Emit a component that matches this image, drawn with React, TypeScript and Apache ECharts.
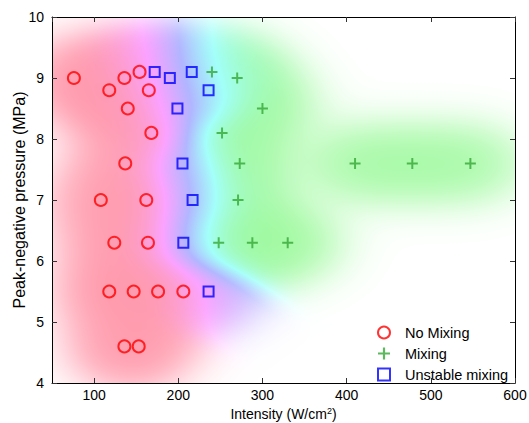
import React, { useEffect, useRef } from 'react';
import * as echarts from 'echarts';

// ---- data (Intensity W/cm², Peak-negative pressure MPa) ----
const noMixing: [number, number][] = [
  [76, 9.0], [118, 8.8], [136, 9.0], [154, 9.1], [165, 8.8], [140, 8.5], [168, 8.1],
  [137, 7.6], [108, 7.0], [162, 7.0], [124, 6.3], [164, 6.3], [118, 5.5], [147, 5.5],
  [176, 5.5], [206, 5.5], [136, 4.6], [153, 4.6],
];
const mixing: [number, number][] = [
  [240, 9.1], [270, 9.0], [300, 8.5], [252, 8.1], [273, 7.6], [410, 7.6], [478, 7.6],
  [547, 7.6], [271, 7.0], [248, 6.3], [288, 6.3], [330, 6.3],
];
const unstable: [number, number][] = [
  [172, 9.1], [190, 9.0], [216, 9.1], [236, 8.8], [199, 8.5], [205, 7.6], [217, 7.0],
  [206, 6.3], [236, 5.5],
];
const seriesNames = ['No Mixing', 'Mixing', 'Unstable mixing'];
const X_MIN = 50;
const X_MAX = 600;
const Y_MIN = 4;
const Y_MAX = 10;

const FONT = 'Liberation Sans, Arial, Helvetica, sans-serif';
const PLUS = 'path://M4.1,0H5.9V4.1H10V5.9H5.9V10H4.1V5.9H0V4.1H4.1Z';

// colour stops along class value: 0 = no mixing, 1 = unstable, 2 = mixing
const STOPS = [
  [255, 0, 45],
  [245, 20, 255],
  [60, 70, 255],
  [20, 255, 240],
  [10, 240, 10],
];

function stopColor(v: number) {
  const t = Math.max(0, Math.min(4, v * 2));
  const i = Math.min(3, Math.floor(t));
  const f = t - i;
  const a = STOPS[i], b = STOPS[i + 1];
  return [a[0] + (b[0] - a[0]) * f, a[1] + (b[1] - a[1]) * f, a[2] + (b[2] - a[2]) * f];
}

function buildField(pts: { x: number; y: number; v: number }[], w: number, h: number) {
  const canvas = document.createElement('canvas');
  canvas.width = w;
  canvas.height = h;
  const ctx = canvas.getContext('2d')!;
  const img = ctx.createImageData(w, h);
  const sx = 36, sy = 26, K = 1.2, AMAX = 0.4;
  for (let y = 0; y < h; y++) {
    for (let x = 0; x < w; x++) {
      let D = 0, S = 0, Sv = 0;
      for (let k = 0; k < pts.length; k++) {
        const p = pts[k];
        const dx = (x + 0.5 - p.x) / sx;
        const dy = (y + 0.5 - p.y) / sy;
        const wt = Math.exp(-0.5 * (dx * dx + dy * dy));
        D += wt;
        const w2 = Math.pow(wt, 1.6);
        S += w2;
        Sv += w2 * p.v;
      }
      const v = S > 1e-300 ? Sv / S : 1;
      const a = AMAX * (1 - Math.exp(-K * D));
      const c = stopColor(v);
      const o = (y * w + x) * 4;
      img.data[o] = 255 * (1 - a) + c[0] * a;
      img.data[o + 1] = 255 * (1 - a) + c[1] * a;
      img.data[o + 2] = 255 * (1 - a) + c[2] * a;
      img.data[o + 3] = 255;
    }
  }
  ctx.putImageData(img, 0, 0);
  return canvas.toDataURL('image/png');
}

export default function App() {
  const ref = useRef<HTMLDivElement>(null);
  useEffect(() => {
    document.body.style.margin = '0';
    const chart = echarts.init(ref.current!, null, { renderer: 'svg' });
    const axisCommon = {
      type: 'value' as const,
      axisLine: { show: true, onZero: false, lineStyle: { color: '#000', width: 1 } },
      axisTick: { show: true, inside: true, length: 5, lineStyle: { color: '#333' } },
      splitLine: { show: false },
    };
    const labelStyle = { color: '#000', fontSize: 14, fontFamily: FONT };
    chart.setOption({
      animation: false,
      backgroundColor: '#fff',
      grid: {
        left: 52,
        top: 17,
        right: 14,
        bottom: 40,
        containLabel: false,
        outerBoundsMode: 'none',
      },
      xAxis: [
        {
          ...axisCommon,
          min: X_MIN,
          max: X_MAX,
          position: 'bottom',
          axisLabel: { ...labelStyle, margin: 5, showMinLabel: false },
          name: 'Intensity (W/cm{sup|2})',
          nameLocation: 'middle',
          nameGap: 21,
          nameTextStyle: {
            color: '#000',
            fontSize: 14,
            fontFamily: FONT,
            rich: { sup: { fontSize: 9, verticalAlign: 'top', color: '#000', fontFamily: FONT } },
          },
        },
        {
          ...axisCommon,
          min: X_MIN,
          max: X_MAX,
          position: 'top',
          axisLabel: { show: false },
        },
      ],
      yAxis: [
        {
          ...axisCommon,
          min: Y_MIN,
          max: Y_MAX,
          interval: 1,
          position: 'left',
          axisLabel: { ...labelStyle, margin: 8 },
          name: 'Peak-negative pressure (MPa)',
          nameLocation: 'middle',
          nameGap: 25,
          nameMoveOverlap: false,
          nameTextStyle: { color: '#000', fontSize: 16, fontFamily: FONT },
        },
        {
          ...axisCommon,
          min: Y_MIN,
          max: Y_MAX,
          interval: 1,
          position: 'right',
          axisLabel: { show: false },
        },
      ],
      legend: {
        orient: 'vertical',
        left: 372,
        top: 320,
        padding: 5,
        itemWidth: 12,
        itemHeight: 12,
        itemGap: 6,
        data: seriesNames,
        textStyle: { color: '#000', fontSize: 14.5, fontFamily: FONT, padding: [0, 0, 0, 10] },
        selectedMode: false,
      },
      series: [
        {
          name: seriesNames[0],
          type: 'scatter',
          data: noMixing,
          symbol: 'circle',
          symbolSize: 12,
          itemStyle: { color: 'rgba(255,255,255,0)', borderColor: '#ff0000', borderWidth: 2 },
          z: 3,
        },
        {
          name: seriesNames[1],
          type: 'scatter',
          data: mixing,
          symbol: PLUS,
          symbolSize: 11,
          itemStyle: { color: '#35a835' },
          z: 3,
        },
        {
          name: seriesNames[2],
          type: 'scatter',
          data: unstable,
          symbol: 'rect',
          symbolSize: 10,
          itemStyle: { color: 'rgba(255,255,255,0)', borderColor: '#0000ff', borderWidth: 2 },
          z: 3,
        },
      ],
    });

    const tl = chart.convertToPixel({ seriesIndex: 0 }, [X_MIN, Y_MAX]) as number[];
    const br = chart.convertToPixel({ seriesIndex: 0 }, [X_MAX, Y_MIN]) as number[];
    const gx = Math.round(tl[0]), gy = Math.round(tl[1]);
    const gw = Math.round(br[0]) - gx, gh = Math.round(br[1]) - gy;
    const pts: { x: number; y: number; v: number }[] = [];
    const groups: [[number, number][], number][] = [[noMixing, 0], [unstable, 1], [mixing, 2]];
    groups.forEach(([arr, v]) => {
      arr.forEach((d) => {
        const p = chart.convertToPixel({ seriesIndex: 0 }, d) as number[];
        pts.push({ x: p[0] - gx, y: p[1] - gy, v });
      });
    });
    const url = buildField(pts, gw, gh);
    chart.setOption({
      graphic: [
        {
          type: 'image',
          z: -1,
          silent: true,
          style: { image: url, x: gx, y: gy, width: gw, height: gh },
        },
      ],
    });
    return () => chart.dispose();
  }, []);
  return <div ref={ref} style={{ width: 529, height: 423 }} />;
}
